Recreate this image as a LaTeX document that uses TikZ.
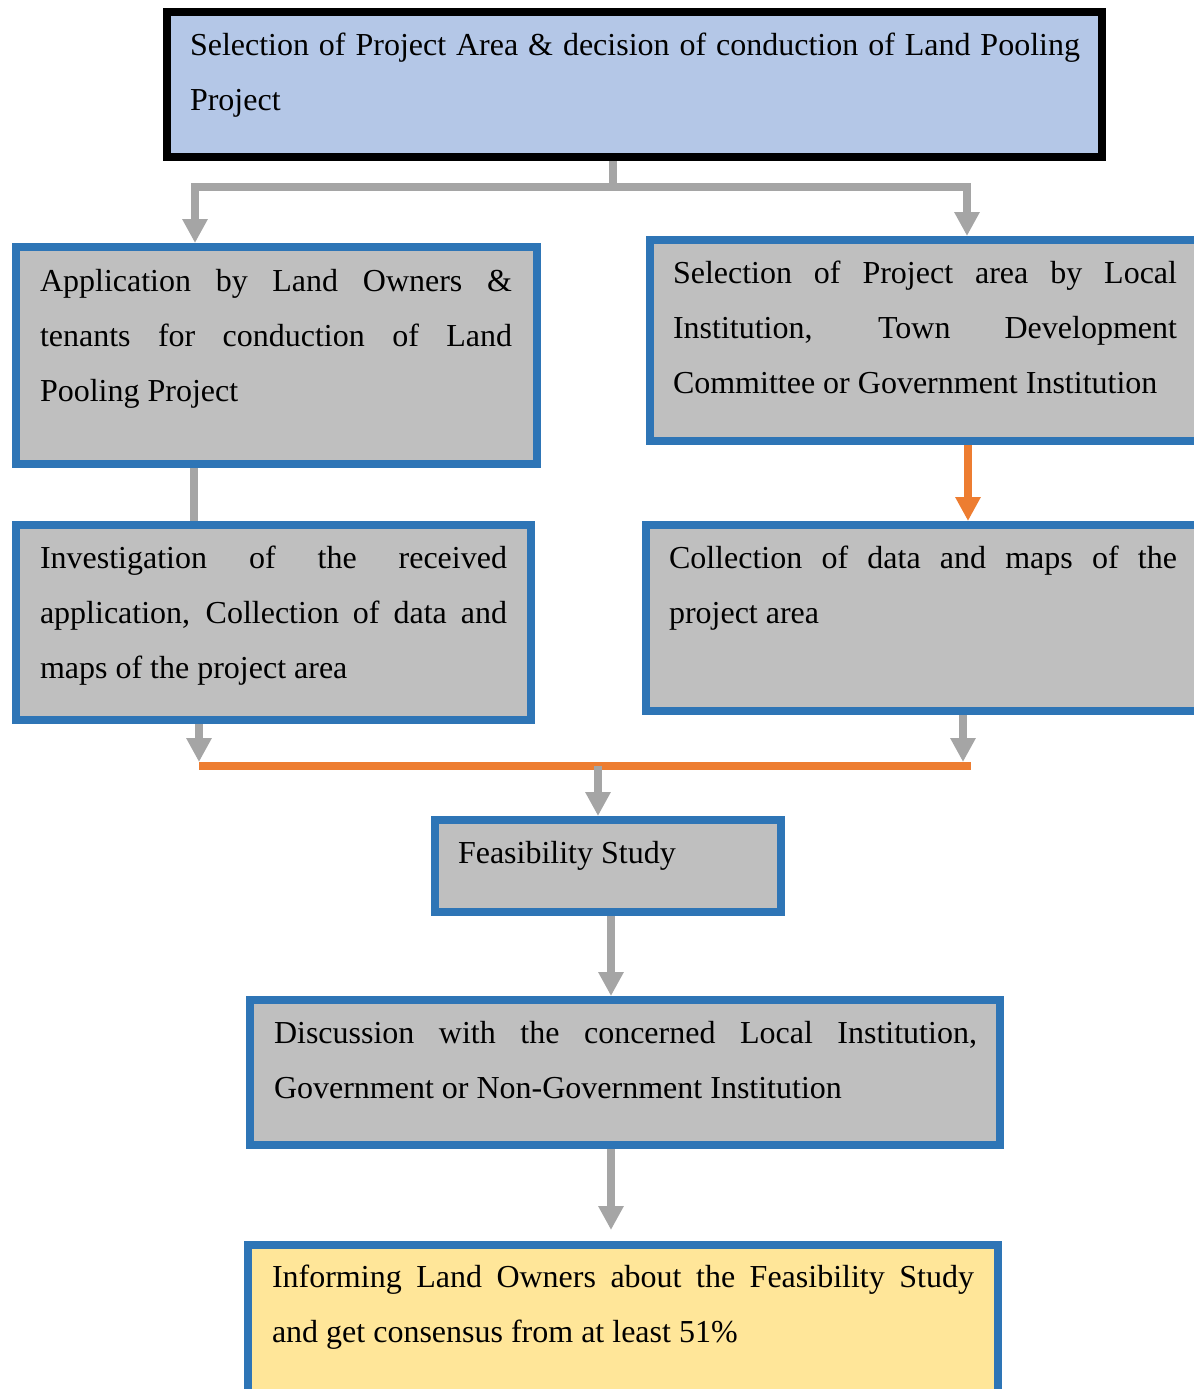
\documentclass[tikz,border=0pt]{standalone}
\usepackage{fontspec}
\setmainfont{Liberation Serif}
\usetikzlibrary{arrows.meta}
\definecolor{boxblue}{HTML}{2E75B6}
\definecolor{boxgray}{HTML}{BFBFBF}
\definecolor{linkgray}{HTML}{A5A5A5}
\definecolor{accent}{HTML}{ED7D31}
\definecolor{topblue}{HTML}{B4C7E7}
\definecolor{noteyellow}{HTML}{FFE699}
\hyphenpenalty=10000
\exhyphenpenalty=10000
\tolerance=10000
\hbadness=10000
\begin{document}
\begin{tikzpicture}[x=0.5pt,y=-0.5pt,
  stage/.style={rectangle, draw=boxblue, fill=boxgray, line width=4pt,
                inner sep=0pt, outer sep=2pt},
  btext/.style={anchor=base west, inner sep=0pt, outer sep=0pt,
                font=\fontsize{16pt}{27.5pt}\selectfont},
  link/.style={draw=linkgray, line width=4pt},
  tip/.style={-{Triangle[length=12pt,width=12pt]}},
  flow/.style={link, tip},
  hot/.style={draw=accent, line width=4pt},
]
\clip (0,0) rectangle (1194,1389);

% boxes
\node[stage, draw=black, fill=topblue, minimum width=467.5pt, minimum height=72.5pt] (top) at (634.5,84.5) {};
\node[stage, minimum width=260.5pt, minimum height=108.5pt] (L1) at (276.5,355.5) {};
\node[stage, minimum width=285pt, minimum height=100.5pt] (R1) at (935,340.5) {};
\node[stage, minimum width=257.5pt, minimum height=97.5pt] (L2) at (273.5,622.5) {};
\node[stage, minimum width=287pt, minimum height=93pt] (R2) at (933,618) {};
\node[stage, minimum width=173pt, minimum height=46pt] (feas) at (608,866) {};
\node[stage, minimum width=375pt, minimum height=72.5pt] (disc) at (625,1072.5) {};
\node[stage, fill=noteyellow, minimum width=375pt, minimum height=77.5pt] (inform) at (623,1322.5) {};

% texts
\node[btext] (topT) at (190,55) {\parbox[t]{445pt}{Selection of Project Area \& decision of conduction of Land Pooling\linebreak Project}};
\node[btext] (L1T) at (40,291) {\parbox[t]{236pt}{Application by Land Owners \&\linebreak tenants for conduction of Land\linebreak Pooling Project}};
\node[btext] (R1T) at (673,283) {\parbox[t]{252pt}{Selection of Project area by Local\linebreak Institution, Town Development\linebreak Committee or Government Institution}};
\node[btext] (L2T) at (40,568) {\parbox[t]{233.5pt}{Investigation of the received\linebreak application, Collection of data and\linebreak maps of the project area}};
\node[btext] (R2T) at (669,568) {\parbox[t]{254pt}{Collection of data and maps of the\linebreak project area}};
\node[btext] (feasT) at (458,863) {Feasibility Study};
\node[btext] (discT) at (274,1043) {\parbox[t]{351.5pt}{Discussion with the concerned Local Institution,\linebreak Government or Non-Government Institution}};
\node[btext] (informT) at (272,1287) {\parbox[t]{351pt}{Informing Land Owners about the Feasibility Study\linebreak and get consensus from at least 51\%}};

% guide columns and junctions
\coordinate (split) at (613,187);
\coordinate (colL) at (195,0);
\coordinate (colR) at (967,0);
\coordinate (colL2) at (194,0);
\coordinate (colR2) at (968,0);
\coordinate (inL) at (199,762);
\coordinate (inR) at (963,762);
\coordinate (mL) at (199,766);
\coordinate (mR) at (971,766);
\coordinate (mC) at (598,766);
\coordinate (colC) at (611,0);
\coordinate (stop) at (611,1230);

% connectors
\draw[link] (top.south -| split) -- (split);
\draw[flow] (split) -| (colL |- L1.north);
\draw[flow] (split) -| (colR |- R1.north);
\draw[link] (colL2 |- L1.south) -- (colL2 |- L2.north);
\draw[hot, tip] (colR2 |- R1.south) -- (colR2 |- R2.north);
\draw[flow] (inL |- L2.south) -- (inL);
\draw[flow] (inR |- R2.south) -- (inR);
\draw[hot] (mL) -- (mR);
\draw[flow] (mC) -- (mC |- feas.north);
\draw[flow] (colC |- feas.south) -- (colC |- disc.north);
\draw[flow] (colC |- disc.south) -- (stop);
\end{tikzpicture}
\end{document}
